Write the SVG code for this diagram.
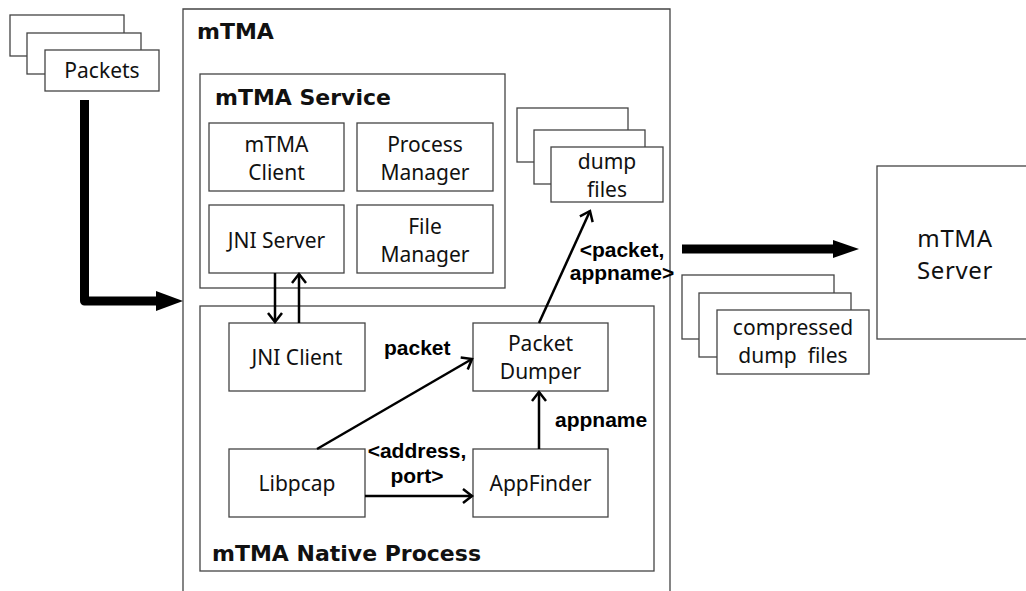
<svg xmlns="http://www.w3.org/2000/svg" width="1026" height="591" viewBox="0 0 1026 591">
  <style>
    .box { fill: #fff; stroke: #444; stroke-width: 1.3; }
    .frame { fill: none; stroke: #444; stroke-width: 1.3; }
    .lbl { font-family: "Noto Sans", "Open Sans", sans-serif; font-size: 21px; fill: #111; text-anchor: middle; }
    .big { font-size: 24px; letter-spacing: 0.6px; }
    .title { font-family: "DejaVu Sans", "Noto Sans", sans-serif; font-size: 22px; font-weight: bold; fill: #111; }
    .edge { font-family: "Liberation Sans", Arial, sans-serif; font-size: 21px; font-weight: bold; fill: #000; }
    .thin { fill: none; stroke: #000; stroke-width: 2.5; marker-end: url(#chev); }
    .thick { fill: none; stroke: #000; stroke-width: 9; stroke-linejoin: round; }
  </style>
  <defs>
    <marker id="chev" markerUnits="userSpaceOnUse" markerWidth="14" markerHeight="16" refX="11" refY="8" orient="auto" overflow="visible">
      <path d="M2,1 L11,8 L2,15" fill="none" stroke="#000" stroke-width="2.5"/>
    </marker>
  </defs>
  <rect width="1026" height="591" fill="#fff"/>

  <!-- mTMA container (runs past the bottom edge) -->
  <g id="mtma">
    <path class="frame" d="M183,600 V9 H670 V600"/>
    <text class="title" x="197" y="39">mTMA</text>
  </g>

  <!-- input packets stack -->
  <g id="packets">
    <rect class="box" x="10" y="15" width="114" height="41"/>
    <rect class="box" x="27" y="33" width="114" height="41"/>
    <rect class="box" x="45" y="50" width="114" height="41"/>
    <text class="lbl" x="102" y="78">Packets</text>
  </g>

  <!-- mTMA Service -->
  <g id="service">
    <rect class="box" x="200" y="74" width="305" height="214"/>
    <text class="title" x="215" y="105">mTMA Service</text>
  </g>
  <g id="mtma-client">
    <rect class="box" x="209" y="123" width="135" height="68"/>
    <text class="lbl" x="276.500" y="152">mTMA</text>
    <text class="lbl" x="276.500" y="180">Client</text>
  </g>
  <g id="process-manager">
    <rect class="box" x="357" y="123" width="136" height="68"/>
    <text class="lbl" x="425" y="152">Process</text>
    <text class="lbl" x="425" y="180">Manager</text>
  </g>
  <g id="jni-server">
    <rect class="box" x="209" y="205" width="135" height="68"/>
    <text class="lbl" x="276.500" y="248">JNI Server</text>
  </g>
  <g id="file-manager">
    <rect class="box" x="357" y="205" width="136" height="68"/>
    <text class="lbl" x="425" y="234">File</text>
    <text class="lbl" x="425" y="262">Manager</text>
  </g>

  <!-- mTMA Native Process -->
  <g id="native">
    <rect class="box" x="200" y="306" width="454" height="265"/>
    <text class="title" x="212" y="561">mTMA Native Process</text>
  </g>
  <g id="jni-client">
    <rect class="box" x="229" y="323" width="136" height="68"/>
    <text class="lbl" x="297" y="365">JNI Client</text>
  </g>
  <g id="packet-dumper">
    <rect class="box" x="473" y="323" width="135" height="68"/>
    <text class="lbl" x="540.500" y="351">Packet</text>
    <text class="lbl" x="540.500" y="379">Dumper</text>
  </g>
  <g id="libpcap">
    <rect class="box" x="229" y="449" width="136" height="68"/>
    <text class="lbl" x="297" y="491">Libpcap</text>
  </g>
  <g id="appfinder">
    <rect class="box" x="473" y="449" width="135" height="68"/>
    <text class="lbl" x="540.500" y="491">AppFinder</text>
  </g>

  <!-- dump files stack -->
  <g id="dump-files">
    <rect class="box" x="517" y="108" width="111" height="54"/>
    <rect class="box" x="534" y="130" width="111" height="54"/>
    <rect class="box" x="551" y="147" width="112" height="55"/>
    <text class="lbl" x="607" y="169">dump</text>
    <text class="lbl" x="607" y="197">files</text>
  </g>

  <!-- mTMA Server -->
  <g id="mtma-server">
    <rect class="box" x="877" y="166" width="160" height="173"/>
    <text class="lbl big" x="955" y="247">mTMA</text>
    <text class="lbl big" x="955" y="279">Server</text>
  </g>

  <!-- compressed dump files stack -->
  <g id="compressed">
    <rect class="box" x="682" y="275" width="152" height="64"/>
    <rect class="box" x="699" y="293" width="152" height="64"/>
    <rect class="box" x="717" y="310" width="152" height="64"/>
    <text class="lbl" x="793" y="335">compressed</text>
    <text class="lbl" x="793" y="363" xml:space="preserve">dump  files</text>
  </g>

  <!-- connectors -->
  <g id="connectors">
    <path class="thick" d="M84.500,100 V301 H158"/>
    <polygon points="156,291 183,301 156,311" fill="#000"/>
    <path class="thick" d="M682,249 H835" stroke-linejoin="miter"/>
    <polygon points="833,240 859,249 833,258" fill="#000"/>

    <path class="thin" d="M275,273 V322"/>
    <path class="thin" d="M299,323 V274"/>
    <path class="thin" d="M317,449 L472,359"/>
    <path class="thin" d="M365,496 H472"/>
    <path class="thin" d="M539,449 V392"/>
    <path class="thin" d="M539,323 L590,211"/>

    <text class="edge" x="384" y="355">packet</text>
    <text class="edge" x="555" y="427">appname</text>
    <text class="edge" x="417" y="458" text-anchor="middle">&lt;address,</text>
    <text class="edge" x="417" y="483" text-anchor="middle">port&gt;</text>
    <text class="edge" x="622" y="257" text-anchor="middle">&lt;packet,</text>
    <text class="edge" x="622" y="280" text-anchor="middle">appname&gt;</text>
  </g>
</svg>
